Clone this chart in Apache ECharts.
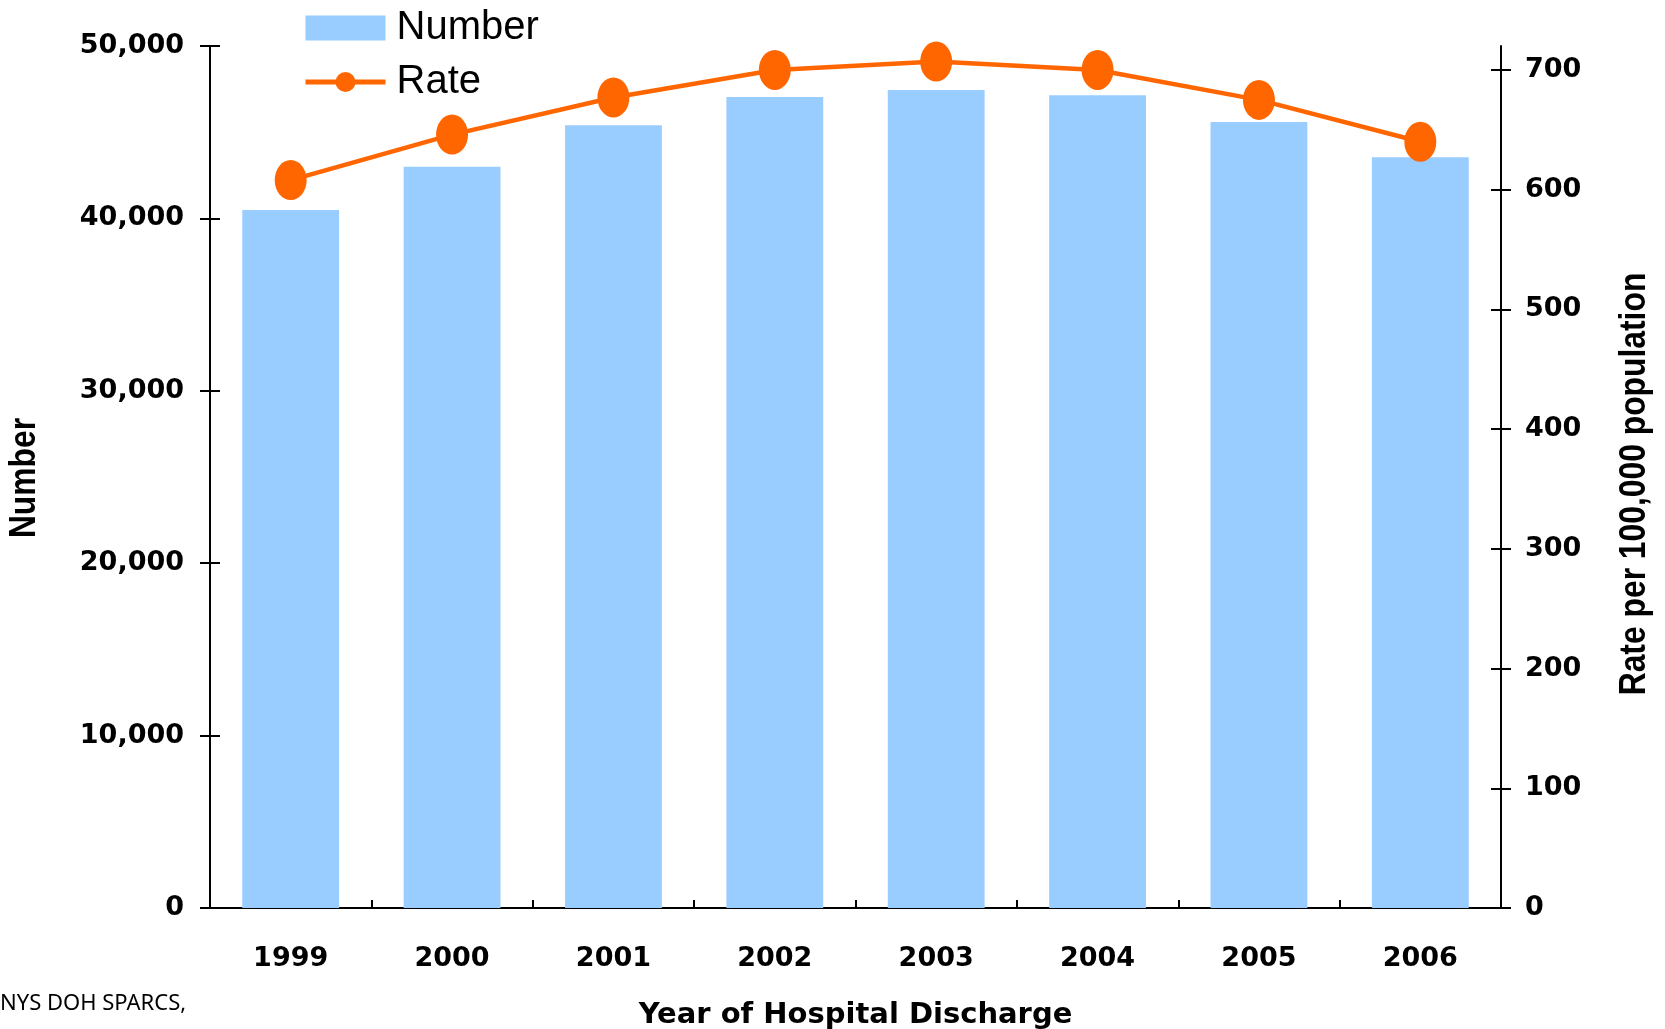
<!DOCTYPE html>
<html>
<head>
<meta charset="utf-8">
<title>Hospital discharges by year</title>
<script src="https://cdn.jsdelivr.net/npm/echarts@6/dist/echarts.min.js"></script>
<style>
  html, body { margin: 0; padding: 0; background: #fff; }
  #main { width: 1665px; height: 1029px; }
</style>
</head>
<body>
<div id="main"></div>
<script>
// data
const years = ['1999', '2000', '2001', '2002', '2003', '2004', '2005', '2006'];
const numbers = [40480, 42990, 45410, 47040, 47450, 47150, 45590, 43550];
const rates = [608, 646, 677, 700, 707, 700, 675, 640];
const rateTicks = [0, 100, 200, 300, 400, 500, 600, 700];

const chart = echarts.init(document.getElementById('main'));

const tickFont = { fontFamily: 'DejaVu Sans', fontWeight: 'bold', fontSize: 27, color: '#000' };
const blackLine = { color: '#000', width: 2 };
const titleFont = 'bold 37px "Liberation Sans"';

const option = {
  animation: false,
  legend: {
    orient: 'vertical',
    left: 303,
    top: 8,
    padding: 0,
    itemWidth: 80,
    itemHeight: 25,
    itemGap: 14,
    textStyle: { fontFamily: 'Liberation Sans', fontSize: 40, lineHeight: 40, color: '#000', padding: [0, 0, 0, 6] },
    data: [
      { name: 'Number', icon: 'rect' },
      { name: 'Rate', lineStyle: { width: 5 } }
    ]
  },
  grid: { left: 210, right: 164, top: 46, bottom: 121, outerBoundsMode: 'none' },
  xAxis: [
    {
      type: 'category',
      data: years,
      position: 'bottom',
      name: 'Year of Hospital Discharge',
      nameLocation: 'middle',
      nameGap: 93,
      nameTextStyle: { fontFamily: 'DejaVu Sans', fontWeight: 'bold', fontSize: 29, color: '#000' },
      axisLine: { lineStyle: blackLine },
      axisTick: { inside: false, length: 10, lineStyle: blackLine },
      axisLabel: Object.assign({ margin: 37 }, tickFont)
    },
    {
      // second copy only to make the ticks cross the line
      type: 'category',
      data: years,
      position: 'bottom',
      axisLine: { show: false },
      axisTick: { show: true, inside: true, length: 8, lineStyle: blackLine },
      axisLabel: { show: false }
    }
  ],
  yAxis: [
    {
      type: 'value',
      min: 0,
      max: 50000,
      interval: 10000,
      position: 'left',
      splitLine: { show: false },
      axisLine: { show: true, lineStyle: blackLine },
      axisTick: { show: true, length: 10, lineStyle: blackLine },
      axisLabel: Object.assign({ margin: 26, formatter: v => v.toLocaleString('en-US') }, tickFont)
    },
    {
      type: 'value',
      min: 0,
      max: 720,
      interval: 100,
      position: 'right',
      splitLine: { show: false },
      axisLine: { show: true, lineStyle: blackLine },
      axisTick: { show: true, length: 10, lineStyle: blackLine, customValues: rateTicks },
      axisLabel: Object.assign({ margin: 24, customValues: rateTicks }, tickFont)
    },
    {
      type: 'value',
      min: 0,
      max: 50000,
      interval: 10000,
      position: 'left',
      splitLine: { show: false },
      axisLine: { show: false },
      axisTick: { show: true, inside: true, length: 10, lineStyle: blackLine },
      axisLabel: { show: false }
    },
    {
      type: 'value',
      min: 0,
      max: 720,
      interval: 100,
      position: 'right',
      splitLine: { show: false },
      axisLine: { show: false },
      axisTick: { show: true, inside: true, length: 10, lineStyle: blackLine, customValues: rateTicks },
      axisLabel: { show: false }
    }
  ],
  series: [
    {
      name: 'Number',
      type: 'bar',
      data: numbers,
      barCategoryGap: '40%',
      itemStyle: { color: '#99CCFF' }
    },
    {
      name: 'Rate',
      type: 'line',
      yAxisIndex: 1,
      data: rates,
      symbol: 'circle',
      symbolSize: [32, 40],
      lineStyle: { color: '#FF6600', width: 4.5 },
      itemStyle: { color: '#FF6600' },
      z: 5
    },
    // empty series so the tick-only overlay axes get drawn
    { name: 'ticksLeft', type: 'line', xAxisIndex: 1, yAxisIndex: 2, data: [], silent: true },
    { name: 'ticksRight', type: 'line', xAxisIndex: 1, yAxisIndex: 3, data: [], silent: true }
  ],
  graphic: [
    {
      type: 'text',
      x: 25,
      y: 478,
      rotation: Math.PI / 2,
      scaleX: 0.86,
      style: { text: 'Number', font: titleFont, fill: '#000', align: 'center', verticalAlign: 'middle' }
    },
    {
      type: 'text',
      x: 1635,
      y: 484,
      rotation: Math.PI / 2,
      scaleX: 0.86,
      style: { text: 'Rate per 100,000 population', font: titleFont, fill: '#000', align: 'center', verticalAlign: 'middle' }
    },
    {
      type: 'text',
      left: 0,
      top: 993,
      style: { text: 'NYS DOH SPARCS,', font: '22px "Noto Sans"', fill: '#000' }
    }
  ]
};

chart.setOption(option);
</script>
</body>
</html>
